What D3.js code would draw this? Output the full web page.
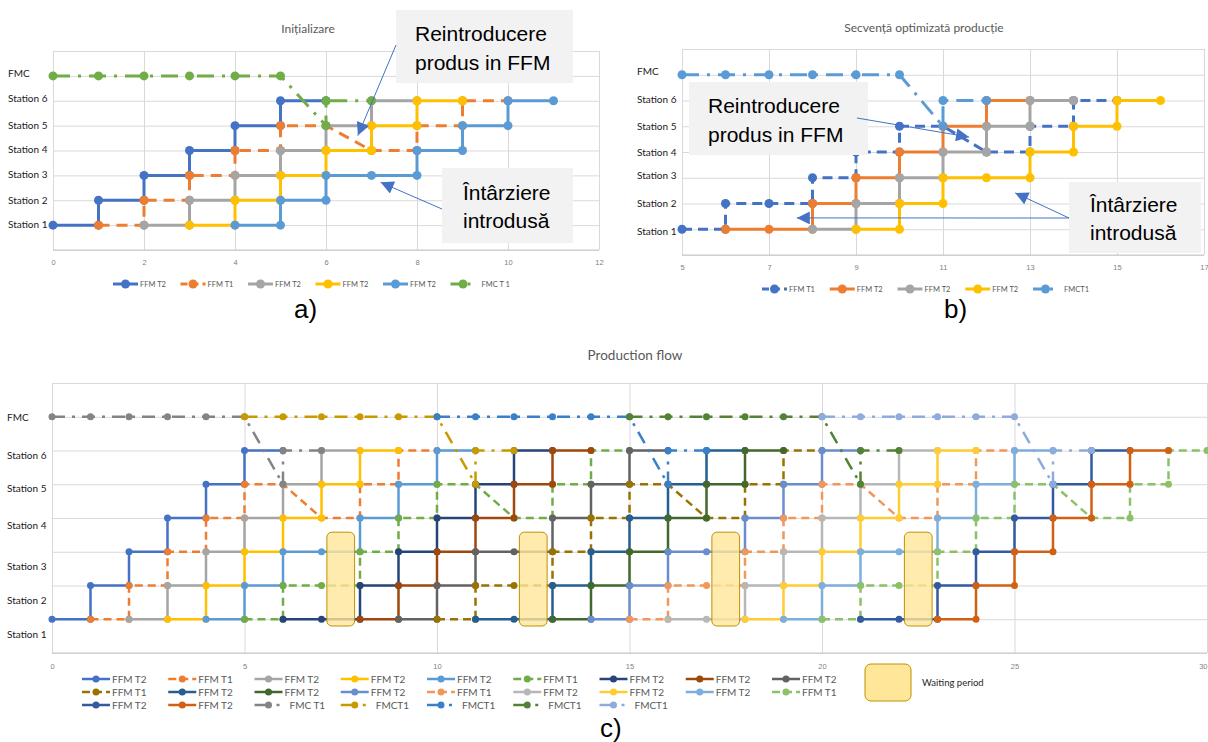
<!DOCTYPE html>
<meta charset="utf-8">
<script src="https://d3js.org/d3.v7.min.js"></script>
<style>body{margin:0;background:#fff}</style>
<div id="chart"></div>
<script>

// ---------- shared ----------
var stations = ["Station 1","Station 2","Station 3","Station 4","Station 5","Station 6","FMC"];

// ---------- a) Initializare ----------
var aTitle = "Inițializare";
var aTicks = [0,2,4,6,8,10,12];
var aNames = ["FFM T2","FFM T1","FFM T2","FFM T2","FFM T2","FMC T 1"];
var aSeries = [
  [[0,1],[1,1],[1,2],[2,2],[2,3],[3,3],[3,4],[4,4],[4,5],[5,5],[5,6],[6,6]],
  [[1,1],[2,1],[2,2],[3,2],[3,3],[4,3],[4,4],[5,4],[5,5],[6,5],[7,4],[8,4],[8,5],[9,5],[9,6],[10,6]],
  [[2,1],[3,1],[3,2],[4,2],[4,3],[5,3],[5,4],[6,4],[6,5],[7,5],[7,6],[8,6]],
  [[3,1],[4,1],[4,2],[5,2],[5,3],[6,3],[6,4],[7,4],[7,5],[8,5],[8,6],[9,6]],
  [[4,1],[5,1],[5,2],[6,2],[6,3],[7,3],[8,3],[8,4],[9,4],[9,5],[10,5],[10,6],[11,6]],
  [[0,7],[1,7],[2,7],[3,7],[4,7],[5,7],[6,5],[6,6],[7,6]]
];
var aColors = ["#4472C4","#ED7D31","#A5A5A5","#FFC000","#5B9BD5","#70AD47"];
var aKinds  = ["solid","dash","solid","solid","solid","dashdot"];

// ---------- b) Secventa optimizata ----------
var bTitle = "Secvență optimizată producție";
var bTicks = [5,7,9,11,13,15,17];
var bNames = ["FFM T1","FFM T2","FFM T2","FFM T2","FMCT1"];
var bSeries = [
  [[5,1],[6,1],[6,2],[7,2],[8,2],[8,3],[9,3],[9,4],[10,4],[10,5],[11,5],[12,4],[13,4],[13,5],[14,5],[14,6],[15,6]],
  [[6,1],[7,1],[8,1],[8,2],[9,2],[9,3],[10,3],[10,4],[11,4],[11,5],[12,5],[12,6],[13,6]],
  [[8,1],[9,1],[9,2],[10,2],[10,3],[11,3],[11,4],[12,4],[12,5],[13,5],[13,6],[14,6]],
  [[9,1],[10,1],[10,2],[11,2],[11,3],[12,3],[13,3],[13,4],[14,4],[14,5],[15,5],[15,6],[16,6]],
  [[5,7],[6,7],[7,7],[8,7],[9,7],[10,7],[11,5],[11,6],[12,6]]
];
var bColors = ["#4472C4","#ED7D31","#A5A5A5","#FFC000","#5B9BD5"];
var bKinds  = ["dash","solid","solid","solid","dashdot"];

// ---------- c) Production flow ----------
var cTitle = "Production flow";
var cTicks = [0,5,10,15,20,25,30];
var cNames = ["FFM T2","FFM T1","FFM T2","FFM T2","FFM T2","FFM T1","FFM T2","FFM T2","FFM T2",
              "FFM T1","FFM T2","FFM T2","FFM T2","FFM T1","FFM T2","FFM T2","FFM T2","FFM T1",
              "FFM T2","FFM T2","FMC T1","FMCT1","FMCT1","FMCT1","FMCT1"];
var cSeries = [
  [[0,1],[1,1],[1,2],[2,2],[2,3],[3,3],[3,4],[4,4],[4,5],[5,5],[5,6],[6,6]],
  [[1,1],[2,1],[2,2],[3,2],[3,3],[4,3],[4,4],[5,4],[5,5],[6,5],[7,4],[8,4],[8,5],[9,5],[9,6],[10,6]],
  [[2,1],[3,1],[3,2],[4,2],[4,3],[5,3],[5,4],[6,4],[6,5],[7,5],[7,6],[8,6]],
  [[3,1],[4,1],[4,2],[5,2],[5,3],[6,3],[6,4],[7,4],[7,5],[8,5],[8,6],[9,6]],
  [[4,1],[5,1],[5,2],[6,2],[6,3],[7,3],[8,3],[8,4],[9,4],[9,5],[10,5],[10,6],[11,6]],
  [[5,1],[6,1],[6,2],[7,2],[8,2],[8,3],[9,3],[9,4],[10,4],[10,5],[11,5],[12,4],[13,4],[13,5],[14,5],[14,6],[15,6]],
  [[6,1],[7,1],[8,1],[8,2],[9,2],[9,3],[10,3],[10,4],[11,4],[11,5],[12,5],[12,6],[13,6]],
  [[8,1],[9,1],[9,2],[10,2],[10,3],[11,3],[11,4],[12,4],[12,5],[13,5],[13,6],[14,6]],
  [[9,1],[10,1],[10,2],[11,2],[11,3],[12,3],[13,3],[13,4],[14,4],[14,5],[15,5],[15,6],[16,6]],
  [[10,1],[11,1],[11,2],[12,2],[13,2],[13,3],[14,3],[14,4],[15,4],[15,5],[16,5],[17,4],[18,4],[18,5],[19,5],[19,6],[20,6]],
  [[11,1],[12,1],[13,1],[13,2],[14,2],[14,3],[15,3],[15,4],[16,4],[16,5],[17,5],[17,6],[18,6]],
  [[13,1],[14,1],[14,2],[15,2],[15,3],[16,3],[16,4],[17,4],[17,5],[18,5],[18,6],[19,6]],
  [[14,1],[15,1],[15,2],[16,2],[16,3],[17,3],[18,3],[18,4],[19,4],[19,5],[20,5],[20,6],[21,6]],
  [[15,1],[16,1],[16,2],[17,2],[18,2],[18,3],[19,3],[19,4],[20,4],[20,5],[21,5],[22,4],[23,4],[23,5],[24,5],[24,6],[25,6]],
  [[16,1],[17,1],[18,1],[18,2],[19,2],[19,3],[20,3],[20,4],[21,4],[21,5],[22,5],[22,6],[23,6]],
  [[18,1],[19,1],[19,2],[20,2],[20,3],[21,3],[21,4],[22,4],[22,5],[23,5],[23,6],[24,6]],
  [[19,1],[20,1],[20,2],[21,2],[21,3],[22,3],[23,3],[23,4],[24,4],[24,5],[25,5],[25,6],[26,6]],
  [[20,1],[21,1],[21,2],[22,2],[23,2],[23,3],[24,3],[24,4],[25,4],[25,5],[26,5],[27,4],[28,4],[28,5],[29,5],[29,6],[30,6]],
  [[21,1],[22,1],[23,1],[23,2],[24,2],[24,3],[25,3],[25,4],[26,4],[26,5],[27,5],[27,6],[28,6]],
  [[23,1],[24,1],[24,2],[25,2],[25,3],[26,3],[26,4],[27,4],[27,5],[28,5],[28,6],[29,6]],
  [[0,7],[1,7],[2,7],[3,7],[4,7],[5,7],[6,5],[6,6],[7,6]],
  [[5,7],[6,7],[7,7],[8,7],[9,7],[10,7],[11,5],[11,6],[12,6]],
  [[10,7],[11,7],[12,7],[13,7],[14,7],[15,7],[16,5],[16,6],[17,6]],
  [[15,7],[16,7],[17,7],[18,7],[19,7],[20,7],[21,5],[21,6],[22,6]],
  [[20,7],[21,7],[22,7],[23,7],[24,7],[25,7],[26,5],[26,6],[27,6]]
];
var cColors = ["#4472C4","#ED7D31","#A5A5A5","#FFC000","#5B9BD5","#70AD47","#264478","#9E480E","#636363",
               "#997300","#255E91","#43682B","#698ED0","#F1975A","#B7B7B7","#FFCD33","#7CAFDD","#8CC168",
               "#335AA1","#D26012","#848484","#C99A00","#3A80C8","#548235","#8FAADC"];
var cKinds = ["solid","dash","solid","solid","solid","dash","solid","solid","solid",
              "dash","solid","solid","solid","dash","solid","solid","solid","dash",
              "solid","solid","dashdot","dashdot","dashdot","dashdot","dashdot"];
var waitTimes = [7.5, 12.5, 17.5, 22.5];

// ---------- drawing ----------
var svg = d3.select("#chart").append("svg")
    .attr("width", 1208).attr("height", 742)
    .style("font-family", "Lato, 'Open Sans', sans-serif");

var defs = svg.append("defs");
defs.append("marker").attr("id","arr")
    .attr("viewBox","0 0 10 10").attr("refX",10).attr("refY",5)
    .attr("markerUnits","userSpaceOnUse").attr("markerWidth",15).attr("markerHeight",13)
    .attr("orient","auto")
  .append("path").attr("d","M0,0L10,5L0,10z").attr("fill","#4472C4");

function plot(o) {
  var g = svg.append("g");
  var x = d3.scaleLinear().domain(o.domain).range([o.left, o.right]);
  var y = d3.scaleLinear().domain([0, 8]).range([o.bottom, o.top]);
  var w = o.right - o.left, h = o.bottom - o.top;

  // grid
  g.append("g").attr("transform", "translate(" + o.left + ",0)")
    .call(d3.axisLeft(y).ticks(8).tickSize(-w).tickFormat(""))
    .call(function(s) { s.select(".domain").remove(); s.selectAll("line").attr("stroke", "#d9d9d9"); });
  g.append("g").attr("transform", "translate(0," + o.bottom + ")")
    .attr("font-family", "Lato, sans-serif")
    .call(d3.axisBottom(x).tickValues(o.ticks).tickSize(-h).tickPadding(o.pad))
    .call(function(s) {
      s.select(".domain").remove();
      s.selectAll("line").attr("stroke", "#d9d9d9");
      s.selectAll("text").attr("fill", "#7f7f7f").attr("font-size", o.tickFont);
    });
  g.append("line").attr("x1", o.left).attr("x2", o.right).attr("y1", o.bottom).attr("y2", o.bottom)
    .attr("stroke", "#c8c8c8");

  // title
  g.append("text").attr("x", o.titleX).attr("y", o.titleY).attr("text-anchor", "middle")
    .attr("fill", "#595959").attr("font-size", o.titleFont).text(o.title);

  // station labels
  g.selectAll(".st").data(stations).enter().append("text")
    .attr("x", o.labelX)
    .attr("y", function(d, i) { return y(i + 1) + o.labelDy[i]; })
    .attr("dy", "0.35em")
    .attr("fill", "#1a1a1a").attr("font-size", o.labelFont)
    .text(function(d) { return d; });

  var line = d3.line().x(function(d) { return x(d[0]); }).y(function(d) { return y(d[1]); });

  o.series.forEach(function(pts, i) {
    var k = o.kinds[i];
    g.append("path").attr("d", line(pts))
      .attr("fill", "none").attr("stroke", o.colors[i]).attr("stroke-width", o.lw)
      .attr("stroke-dasharray", k === "dash" ? o.dash : (k === "dashdot" ? o.dashdot : null));
    g.selectAll(null).data(pts).enter().append("circle")
      .attr("cx", function(d) { return x(d[0]); })
      .attr("cy", function(d) { return y(d[1]); })
      .attr("r", o.r).attr("fill", o.colors[i]);
  });

  // legend
  var lg = g.selectAll(".lg").data(o.names).enter().append("g")
    .attr("transform", function(d, i) {
      return "translate(" + (o.legX + (i % o.legCols) * o.legStep) + "," + (o.legY + Math.floor(i / o.legCols) * o.legRow) + ")";
    });
  lg.append("line").attr("x1", 0).attr("x2", o.legLen).attr("y1", 0).attr("y2", 0)
    .attr("stroke", function(d, i) { return o.colors[i]; })
    .attr("stroke-width", o.lw)
    .attr("stroke-dasharray", function(d, i) {
      var k = o.kinds[i];
      return k === "dash" ? o.legDash : (k === "dashdot" ? o.legDashdot : null);
    });
  lg.append("circle").attr("cx", o.legLen / 2).attr("cy", 0).attr("r", o.r)
    .attr("fill", function(d, i) { return o.colors[i]; });
  lg.append("text").attr("x", function(d, i) { return o.legLen + (o.kinds[i] === "dashdot" ? o.legDdGap : 2); })
    .attr("dy", "0.35em")
    .attr("fill", "#595959").attr("font-size", o.legFont)
    .text(function(d) { return d; });

  return {g: g, x: x, y: y};
}

function note(lines, bx, by, bw, bh, tx, ty, lh) {
  svg.append("rect").attr("x", bx).attr("y", by).attr("width", bw).attr("height", bh).attr("fill", "#f2f2f2");
  lines.forEach(function(t, i) {
    svg.append("text").attr("x", tx).attr("y", ty + i * lh)
      .attr("font-family", "'Liberation Sans', Arial, sans-serif").attr("font-size", 21)
      .attr("fill", "#000").text(t);
  });
}
function arrow(x1, y1, x2, y2) {
  svg.append("line").attr("x1", x1).attr("y1", y1).attr("x2", x2).attr("y2", y2)
    .attr("stroke", "#4472C4").attr("stroke-width", 1).attr("marker-end", "url(#arr)");
}

// a)
var A = plot({
  domain: [0, 12], ticks: aTicks, left: 53, right: 599, top: 51, bottom: 250,
  pad: 10, tickFont: 7.5, title: aTitle, titleX: 308, titleY: 33, titleFont: 12,
  labelX: 8, labelDy: [-1, 0, -1, -1, 0, -2, -2], labelFont: 10,
  series: aSeries, colors: aColors, kinds: aKinds, lw: 3, r: 4.5,
  dash: "11,7", dashdot: "17,8,3,8",
  names: aNames, legX: 113, legY: 284, legCols: 6, legStep: 67.5, legRow: 0, legLen: 25,
  legDash: "7,4", legDashdot: "12,5,3,5", legDdGap: 6, legFont: 7.5
});
note(["Reintroducere", "produs in FFM"], 396, 10, 177, 73, 415, 41, 29);
note(["Întârziere", "introdusă"], 442, 168, 131, 75, 463, 200, 28);
arrow(396, 45, A.x(6.7), A.y(4.6));
arrow(442, 209, A.x(7.2), A.y(2.72));

// b)
var B = plot({
  domain: [5, 17], ticks: bTicks, left: 682, right: 1204, top: 49, bottom: 255,
  pad: 10, tickFont: 7.5, title: bTitle, titleX: 924, titleY: 32, titleFont: 12,
  labelX: 637, labelDy: [2, 0, -2, 0, 0, -1, -3], labelFont: 10,
  series: bSeries, colors: bColors, kinds: bKinds, lw: 3, r: 4.5,
  dash: "10,6", dashdot: "17,8,3,8",
  names: bNames, legX: 762, legY: 289, legCols: 5, legStep: 67.75, legRow: 0, legLen: 25,
  legDash: "7,4", legDashdot: "12,5,3,5", legDdGap: 6, legFont: 7.5
});
note(["Reintroducere", "produs in FFM"], 689, 82, 179, 73, 708, 113, 29);
note(["Întârziere", "introdusă"], 1069, 182, 132, 71, 1090, 212, 28);
arrow(857, 118, B.x(11.6), B.y(4.58));
arrow(1069, 218, B.x(7.64), B.y(1.44));
arrow(1069, 218, B.x(12.66), B.y(2.41));

// c)
var C = plot({
  domain: [0, 30], ticks: cTicks, left: 52, right: 1207, top: 383, bottom: 653,
  pad: 11, tickFont: 7.5, title: cTitle, titleX: 635, titleY: 360, titleFont: 13.5,
  labelX: 7, labelDy: [15, 15, 15, 7, 4, 5, 1], labelFont: 10,
  series: cSeries, colors: cColors, kinds: cKinds, lw: 2.5, r: 3.5,
  dash: "8,5", dashdot: "13,7,3,7",
  names: cNames, legX: 82, legY: 679, legCols: 9, legStep: 86.25, legRow: 13, legLen: 28,
  legDash: "8,4", legDashdot: "16,6,3,6", legDdGap: 7, legFont: 10
});
// last tick label sits on the right edge
C.g.selectAll(".tick text").filter(function(d) { return d === 30; }).attr("text-anchor", "end");

// waiting periods
C.g.selectAll(".wait").data(waitTimes).enter().append("rect")
  .attr("x", function(d) { return C.x(d - 0.36); })
  .attr("y", C.y(3.58))
  .attr("width", C.x(0.72) - C.x(0))
  .attr("height", C.y(0.8) - C.y(3.58))
  .attr("rx", 5)
  .attr("fill", "#FFE699").attr("fill-opacity", 0.8)
  .attr("stroke", "#BF9000").attr("stroke-width", 1);

// waiting legend
svg.append("rect").attr("x", 865).attr("y", 664).attr("width", 46).attr("height", 37).attr("rx", 6)
  .attr("fill", "#FFE699").attr("stroke", "#BF9000");
svg.append("text").attr("x", 922).attr("y", 683).attr("dy", "0.35em")
  .attr("font-size", 9.5).attr("fill", "#262626").text("Waiting period");

// panel letters
[["a)", 294, 318], ["b)", 944, 318], ["c)", 600, 737]].forEach(function(p) {
  svg.append("text").attr("x", p[1]).attr("y", p[2])
    .attr("font-family", "'Liberation Sans', Arial, sans-serif").attr("font-size", 26)
    .attr("fill", "#000").text(p[0]);
});

</script>
